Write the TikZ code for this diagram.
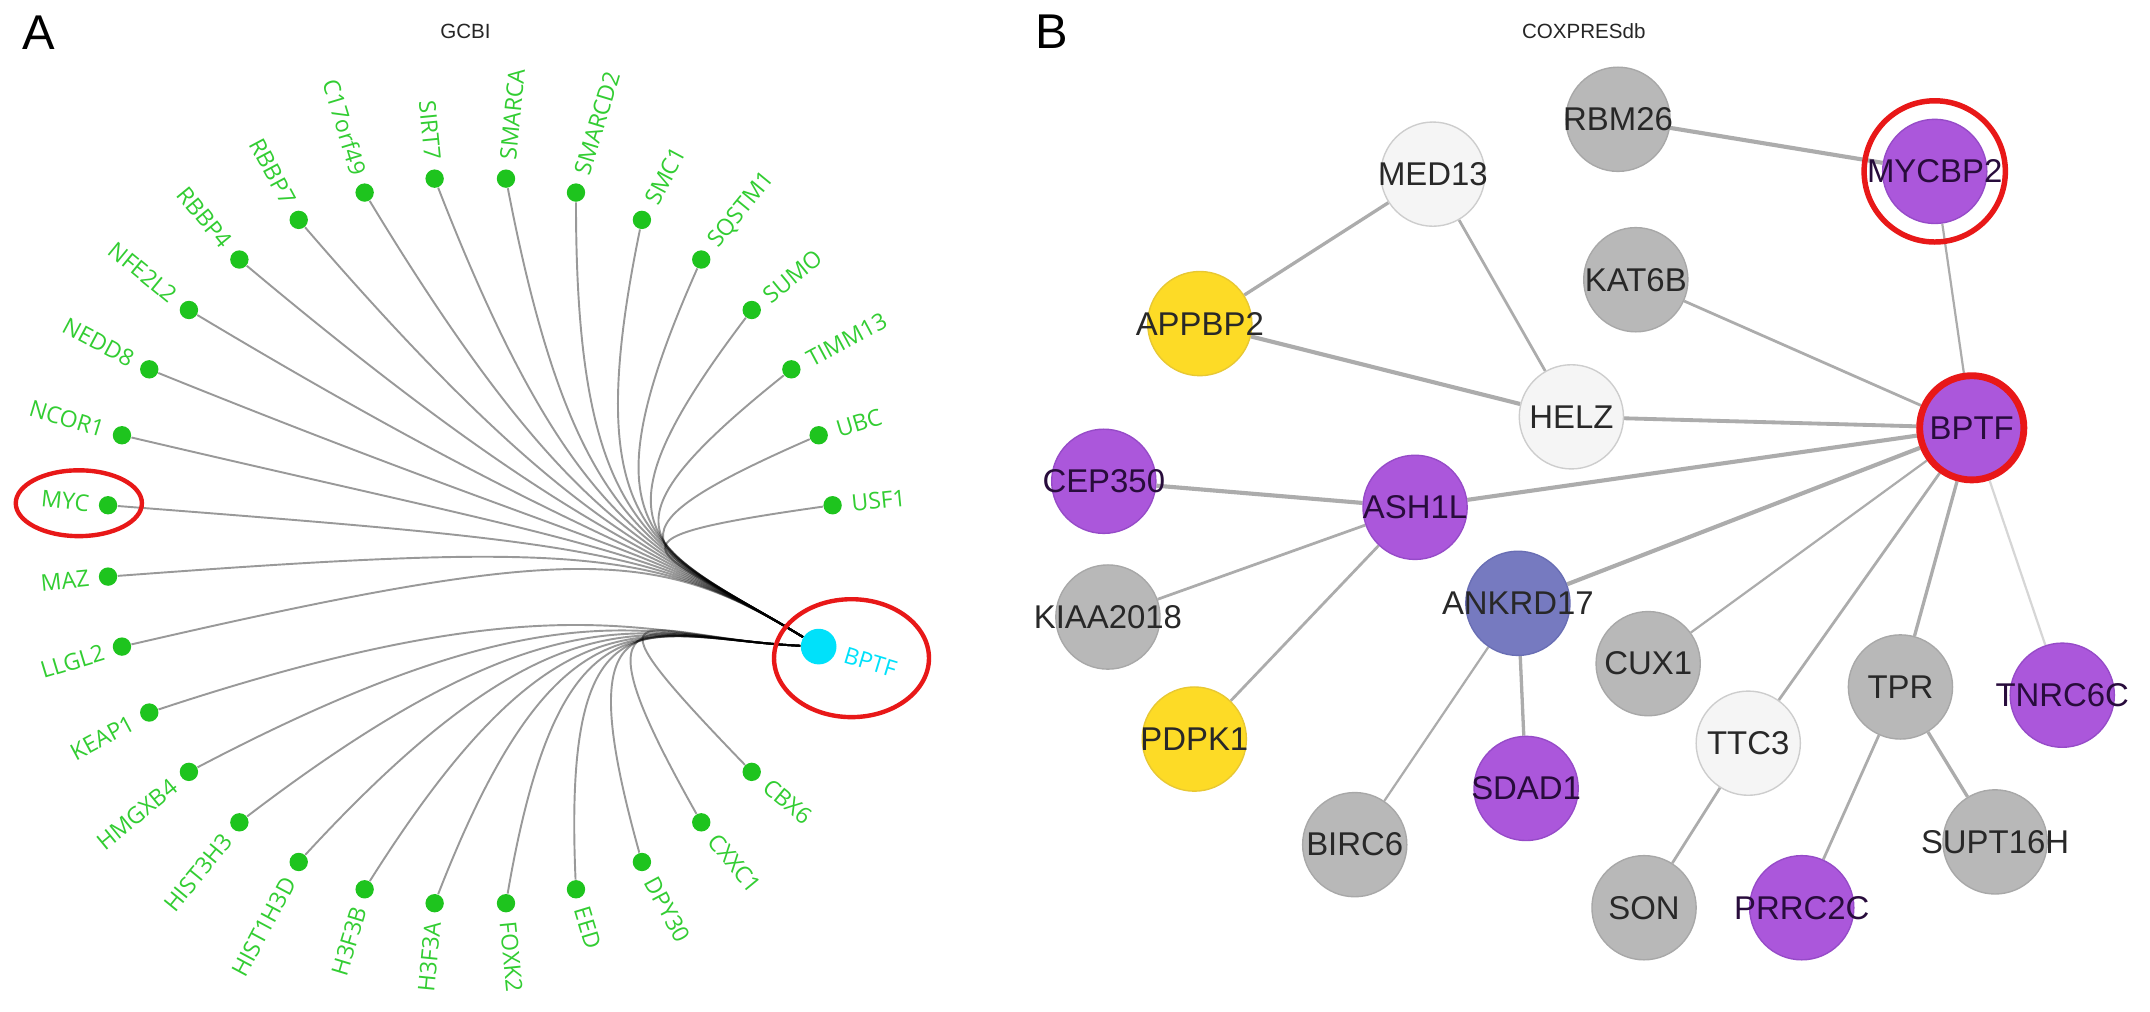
\documentclass[tikz,border=0pt]{standalone}
\usepackage{fontspec}
\newfontfamily\libsans{Liberation Sans}
\newfontfamily\osans{Open Sans}
\usetikzlibrary{calc,shapes.geometric}
\pgfdeclarelayer{bgfill}
\pgfdeclarelayer{bg}
\pgfsetlayers{bgfill,bg,main}
\newcommand\zt[1]{\makebox[0pt]{#1}}
\definecolor{gnode}{RGB}{30,196,30}
\definecolor{glabel}{RGB}{50,205,50}
\definecolor{cyanA}{RGB}{0,225,250}
\definecolor{redring}{RGB}{232,24,24}
\definecolor{purp}{RGB}{171,87,219}
\definecolor{purpd}{RGB}{150,75,200}
\definecolor{grayn}{RGB}{184,184,184}
\definecolor{grayd}{RGB}{168,168,168}
\definecolor{whiten}{RGB}{245,245,245}
\definecolor{whited}{RGB}{205,205,205}
\definecolor{yell}{RGB}{253,219,38}
\definecolor{yelld}{RGB}{232,200,50}
\definecolor{slate}{RGB}{118,122,192}
\definecolor{slated}{RGB}{105,110,180}
\definecolor{edgeg}{RGB}{172,172,172}
\definecolor{edgel}{RGB}{214,214,214}
\definecolor{ptext}{RGB}{40,12,60}
\definecolor{ntext}{RGB}{40,40,40}
\begin{document}
\begin{tikzpicture}[x=0.5pt,y=-0.5pt,
  gdot/.style={circle,fill=gnode,inner sep=0,minimum size=6.7pt},
  glab/.style={inner sep=0,text=glabel,font=\osans\fontsize{8.4}{10}\selectfont},
  aedge/.style={draw=black,draw opacity=0.4,line width=0.7pt},
  redell/.style={ellipse,draw=redring,line width=1.6pt,inner sep=0},
  bn/.style={circle,minimum size=38pt,inner sep=0,line width=0.5pt,font=\libsans\fontsize{12}{14}\selectfont},
  pn/.style={bn,fill=purp,draw=purpd,text=ptext},
  gn/.style={bn,fill=grayn,draw=grayd,text=ntext},
  wn/.style={bn,fill=whiten,draw=whited,text=ntext},
  yn/.style={bn,fill=yell,draw=yelld,text=ntext},
  sn/.style={bn,fill=slate,draw=slated,text=ntext},
  bedge/.style={draw=edgeg,line width=1pt},
  title/.style={inner sep=0,text=black!85,font=\libsans\fontsize{7.5}{9}\selectfont},
  panel/.style={inner sep=0,font=\libsans\fontsize{17.8}{20}\selectfont}
]
\begin{pgfonlayer}{bgfill}
\fill[white] (0,0) rectangle (1568,738);
\end{pgfonlayer}
\useasboundingbox (0,0) rectangle (1568,738);

% ---------------- Panel A ----------------
\node[panel] (tA) at (28,24) {A};
\node[title] (tGCBI) at (339.5,23) {GCBI};

\foreach \n/\a in {USF1/5.625, UBC/16.875, TIMM13/28.125, SUMO/39.375, SQSTM1/50.625,
  SMC1/61.875, SMARCD2/73.125, SMARCA/84.375, SIRT7/95.625, C17orf49/106.875,
  RBBP7/118.125, RBBP4/129.375, NFE2L2/140.625, NEDD8/151.875, NCOR1/163.125,
  MYC/174.375, MAZ/185.625, LLGL2/196.875, KEAP1/208.125, HMGXB4/219.375,
  HIST3H3/230.625, HIST1H3D/241.875, H3F3B/253.125, H3F3A/264.375, FOXK2/275.625,
  EED/286.875, DPY30/298.125, CXXC1/309.375, CBX6/320.625}
{
  \node[gdot] (a-\n) at ({343+265.5*cos(\a)},{394.5-265.5*sin(\a)}) {};
}
\foreach \n/\a in {USF1/5.625, UBC/16.875, TIMM13/28.125, SUMO/39.375, SQSTM1/50.625,
  SMC1/61.875, SMARCD2/73.125, SMARCA/84.375, FOXK2/275.625,
  EED/286.875, DPY30/298.125, CXXC1/309.375, CBX6/320.625}
{
  \node[glab,rotate=\a,anchor=west] (al-\n) at ({343+279*cos(\a)},{394.5-279*sin(\a)}) {\n};
}
\foreach \n/\a in {SIRT7/95.625, C17orf49/106.875,
  RBBP7/118.125, RBBP4/129.375, NFE2L2/140.625, NEDD8/151.875, NCOR1/163.125,
  MYC/174.375, MAZ/185.625, LLGL2/196.875, KEAP1/208.125, HMGXB4/219.375,
  HIST3H3/230.625, HIST1H3D/241.875, H3F3B/253.125, H3F3A/264.375}
{
  \node[glab,rotate=\a+180,anchor=east] (al-\n) at ({343+279*cos(\a)},{394.5-279*sin(\a)}) {\n};
}
\node[circle,fill=cyanA,inner sep=0,minimum size=13pt] (a-BPTF) at ({343+265.5*cos(343.125)},{394.5-265.5*sin(343.125)}) {};
\node[glab,text=cyanA,rotate=-16.875,anchor=west] (al-BPTF) at ({343+285*cos(343.125)},{394.5-285*sin(343.125)}) {BPTF};

\node[redell,minimum width=56.5pt,minimum height=43pt] (ellBPTF) at (621,480) {};
\node[redell,minimum width=46pt,minimum height=24pt] (ellMYC) at (57.5,367) {};

\begin{pgfonlayer}{bg}
\foreach \n in {USF1,UBC,TIMM13,SUMO,SQSTM1,SMC1,SMARCD2,SMARCA,SIRT7,C17orf49,
  RBBP7,RBBP4,NFE2L2,NEDD8,NCOR1,MYC,MAZ,LLGL2}
  \draw[aedge] (a-\n) .. controls (420,395) and (480,400) .. (a-BPTF);
\foreach \n in {KEAP1,HMGXB4,HIST3H3,HIST1H3D,H3F3B,H3F3A,FOXK2,EED,DPY30,CXXC1,CBX6}
  \draw[aedge] (a-\n) .. controls (410,420) and (475,466) .. (a-BPTF);
\end{pgfonlayer}

% ---------------- Panel B ----------------
\node[panel] (tB) at (767,23) {B};
\node[title] (tCOX) at (1155,23) {COXPRESdb};

\node[gn] (b-RBM26) at (1180,87) {\zt{RBM26}};
\node[wn] (b-MED13) at (1045,127) {\zt{MED13}};
\node[pn] (b-MYCBP2) at (1411,125) {\zt{MYCBP2}};
\node[circle,draw=redring,line width=2pt,minimum size=51.5pt,inner sep=0] (b-ring) at (b-MYCBP2) {};
\node[gn] (b-KAT6B) at (1193,204) {\zt{KAT6B}};
\node[yn] (b-APPBP2) at (875,236) {\zt{APPBP2}};
\node[wn] (b-HELZ) at (1146,304) {\zt{HELZ}};
\node[pn,draw=redring,line width=2.5pt] (b-BPTF) at (1438,312) {\zt{BPTF}};
\node[pn] (b-CEP350) at (805,351) {\zt{CEP350}};
\node[pn] (b-ASH1L) at (1032,370) {\zt{ASH1L}};
\node[gn] (b-KIAA2018) at (808,450) {\zt{KIAA2018}};
\node[sn] (b-ANKRD17) at (1107,440) {\zt{ANKRD17}};
\node[gn] (b-CUX1) at (1202,484) {\zt{CUX1}};
\node[gn] (b-TPR) at (1386,501) {\zt{TPR}};
\node[pn] (b-TNRC6C) at (1504,507) {\zt{TNRC6C}};
\node[wn] (b-TTC3) at (1275,542) {\zt{TTC3}};
\node[yn] (b-PDPK1) at (871,539) {\zt{PDPK1}};
\node[pn] (b-SDAD1) at (1113,575) {\zt{SDAD1}};
\node[gn] (b-BIRC6) at (988,616) {\zt{BIRC6}};
\node[gn] (b-SUPT16H) at (1455,614) {\zt{SUPT16H}};
\node[gn] (b-SON) at (1199,662) {\zt{SON}};
\node[pn] (b-PRRC2C) at (1314,662) {\zt{PRRC2C}};

\begin{pgfonlayer}{bg}
\draw[bedge,line width=1.5pt] (b-RBM26) -- (b-MYCBP2);
\draw[bedge,line width=1.2pt] (b-MED13) -- (b-APPBP2);
\draw[bedge,line width=1pt] (b-MED13) -- (b-HELZ);
\draw[bedge,line width=1.5pt] (b-APPBP2) -- (b-HELZ);
\draw[bedge,line width=0.8pt] (b-MYCBP2) -- (b-BPTF);
\draw[bedge,line width=1pt] (b-KAT6B) -- (b-BPTF);
\draw[bedge,line width=1.4pt] (b-HELZ) -- (b-BPTF);
\draw[bedge,line width=1.5pt] (b-ASH1L) -- (b-BPTF);
\draw[bedge,line width=1.5pt] (b-CEP350) -- (b-ASH1L);
\draw[bedge,line width=1pt] (b-ASH1L) -- (b-KIAA2018);
\draw[bedge,line width=1pt] (b-ASH1L) -- (b-PDPK1);
\draw[bedge,line width=1.5pt] (b-ANKRD17) -- (b-BPTF);
\draw[bedge,line width=0.8pt] (b-ANKRD17) -- (b-BIRC6);
\draw[bedge,line width=1.2pt] (b-ANKRD17) -- (b-SDAD1);
\draw[bedge,line width=0.8pt] (b-CUX1) -- (b-BPTF);
\draw[bedge,line width=1pt] (b-TTC3) -- (b-BPTF);
\draw[bedge,line width=1.2pt] (b-TPR) -- (b-BPTF);
\draw[draw=edgel,line width=0.8pt] (b-TNRC6C) -- (b-BPTF);
\draw[bedge,line width=1pt] (b-TTC3) -- (b-SON);
\draw[bedge,line width=1pt] (b-TPR) -- (b-PRRC2C);
\draw[bedge,line width=1.2pt] (b-TPR) -- (b-SUPT16H);
\end{pgfonlayer}
\end{tikzpicture}
\end{document}
